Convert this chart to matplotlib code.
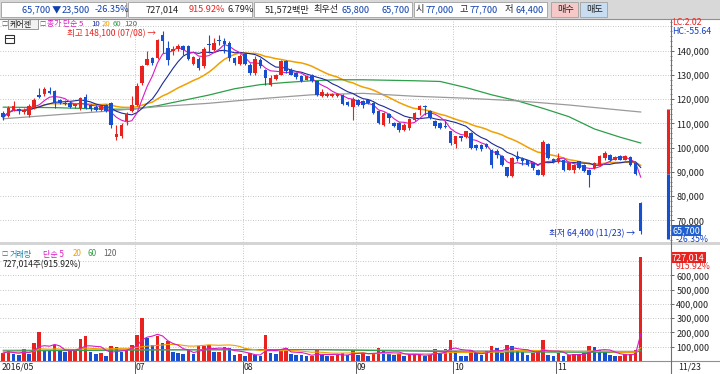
import numpy as np
import pandas as pd
import matplotlib
matplotlib.use('Agg')
import matplotlib.pyplot as plt
import matplotlib.transforms as mtransforms
from matplotlib.patches import Rectangle
from matplotlib.lines import Line2D
from matplotlib.ticker import MultipleLocator, FuncFormatter

plt.rcParams['font.family'] = ['Noto Sans CJK KR', 'DejaVu Sans']

# daily candles, 2016/05 .. 2016/11/23
opens = [
    114300, 113000, 115500, 116000, 114500, 113500, 116800, 121800, 122000, 123500,
    123200, 119700, 118600, 118500, 117000, 116500, 121000, 117500, 116800, 115500,
    117600, 118500, 104200, 104600, 110800, 115200, 117700, 126600, 134200, 137000,
    136900, 146600, 141000, 139700, 140800, 141800, 141800, 134500, 136700, 133500,
    142800, 140400, 144500, 143900, 143200, 136900, 134500, 138600, 134200, 130800,
    136300, 132200, 126000, 128400, 130100, 135600, 132200, 130800, 129400, 128000,
    130100, 127300, 121500, 121500, 121300, 121200, 121800, 119000, 116800, 119800,
    119400, 119800, 118400, 115000, 109500, 113900, 110100, 110100, 107400, 108100,
    111500, 115600, 117300, 115000, 111100, 110100, 109000, 106700, 101500, 104600,
    104200, 106000, 101200, 101000, 101500, 99100, 98400, 96400, 91800, 88100,
    96600, 95700, 94700, 93600, 90900, 88800, 101500, 95300, 94000, 95000,
    90900, 90900, 94300, 92900, 90900, 91600, 92700, 95700, 97100, 95000,
    96400, 95000, 96000, 93600, 77000,
]
highs = [
    115000, 117000, 119300, 116500, 116300, 118000, 120300, 124600, 124900, 124900,
    123900, 120200, 119800, 119200, 118500, 121000, 122000, 118000, 117400, 117500,
    118200, 119000, 109500, 110000, 114500, 121200, 126500, 134000, 139700, 137500,
    145000, 148100, 143800, 141800, 142700, 142500, 142300, 137700, 137200, 141500,
    146600, 145200, 146600, 145200, 143900, 137500, 138500, 139000, 134800, 137700,
    136800, 132500, 130000, 130300, 136000, 136000, 132800, 131200, 129800, 129800,
    130500, 127500, 124000, 122800, 122500, 122600, 122000, 119400, 120800, 120200,
    119800, 120200, 118800, 115400, 114800, 114200, 110500, 110500, 110000, 112300,
    114800, 117500, 117400, 115400, 111400, 110500, 110800, 107000, 105000, 105000,
    107000, 106300, 101500, 101300, 102000, 99500, 99500, 96800, 92200, 96300,
    98400, 96000, 95000, 94000, 91200, 103200, 101800, 95600, 97800, 95400,
    94000, 93300, 94600, 93200, 91300, 94000, 97100, 98400, 97500, 96400,
    96800, 96800, 96400, 94000, 77700,
]
lows = [
    111500, 112500, 115000, 114000, 113800, 112800, 116000, 120500, 121500, 122000,
    116300, 118000, 117400, 116300, 116500, 115600, 116000, 115200, 115000, 115000,
    114600, 108000, 103300, 104000, 109400, 114800, 117000, 126000, 133900, 134000,
    136500, 139000, 134000, 138300, 139700, 138300, 136000, 134000, 132000, 133000,
    139000, 140000, 142500, 139000, 135600, 134200, 134000, 134000, 130000, 130000,
    133000, 125900, 125300, 128000, 129800, 131000, 129800, 128500, 126900, 127800,
    127000, 121300, 121000, 121000, 120800, 120900, 117600, 117000, 111500, 117000,
    116300, 118000, 114000, 109800, 108800, 110100, 108500, 106400, 107000, 107400,
    111000, 113600, 113600, 111800, 108100, 107800, 108000, 101200, 99800, 102600,
    104000, 99500, 99000, 98500, 99800, 91500, 95700, 92300, 87700, 87800,
    94300, 92900, 92600, 90800, 88500, 88400, 95300, 93600, 93700, 90500,
    90600, 89500, 91200, 89900, 83600, 91200, 92300, 95000, 94600, 94700,
    94700, 94700, 92600, 88800, 64400,
]
closes = [
    112500, 116500, 117200, 115200, 115500, 117000, 119800, 120800, 124000, 122500,
    118300, 118400, 117900, 116800, 118000, 120300, 116500, 115800, 115500, 117000,
    115100, 109400, 105600, 109400, 113700, 117400, 125300, 133500, 136700, 134900,
    144500, 143800, 136000, 140800, 141800, 140400, 136700, 137200, 132800, 140800,
    142400, 143200, 143800, 142700, 136900, 134900, 137900, 134500, 130800, 136700,
    133500, 128700, 128700, 130000, 135600, 131500, 130100, 129000, 127300, 129400,
    127300, 121800, 122900, 122300, 122000, 122200, 118000, 117400, 120200, 117400,
    117700, 118400, 114300, 110100, 114300, 112200, 108800, 107400, 109500, 111900,
    114300, 117000, 116600, 112200, 108800, 108100, 108400, 101900, 104600, 104000,
    106700, 99800, 99800, 99500, 100200, 92900, 96800, 92700, 88100, 95900,
    95400, 94300, 92900, 91500, 88800, 102500, 95700, 93900, 95700, 90900,
    93600, 92900, 91600, 90200, 88800, 93600, 96400, 97800, 95000, 96000,
    95000, 96400, 92900, 89200, 65700,
]
volumes = [
    56000, 73000, 49000, 44000, 84000, 49000, 126000, 204000, 73000, 68000,
    110000, 73000, 63000, 68000, 70000, 157000, 173000, 63000, 49000, 56000,
    33000, 103000, 96000, 63000, 80000, 110000, 185000, 302000, 161000, 115000,
    173000, 126000, 138000, 63000, 56000, 49000, 80000, 49000, 103000, 108000,
    112000, 63000, 66000, 96000, 93000, 44000, 46000, 33000, 56000, 40000,
    38000, 185000, 56000, 49000, 73000, 91000, 49000, 44000, 40000, 33000,
    35000, 80000, 45000, 33000, 36000, 40000, 56000, 44000, 80000, 44000,
    56000, 33000, 56000, 91000, 73000, 49000, 44000, 56000, 33000, 44000,
    46000, 48000, 33000, 44000, 87000, 56000, 87000, 150000, 73000, 38000,
    36000, 80000, 56000, 44000, 68000, 103000, 91000, 56000, 115000, 103000,
    68000, 66000, 44000, 56000, 68000, 145000, 40000, 38000, 56000, 33000,
    44000, 47000, 50000, 56000, 103000, 96000, 80000, 63000, 44000, 33000,
    35000, 49000, 52000, 79375, 727014,
]

# long moving averages (index, value)
ma60_idx = [0, 10, 20, 25, 30, 35, 40, 45, 50, 55, 60, 65, 70, 75, 80, 85, 90, 95, 100, 105, 110, 115, 120, 124]
ma60_val = [116700, 116500, 115900, 115800, 117300, 119500, 121700, 124300, 126000, 126900, 127600, 128000,
            128000, 127800, 127600, 127300, 124800, 121800, 119300, 116200, 112800, 107700, 104300, 101900]
ma120_idx = [0, 10, 20, 30, 40, 50, 60, 70, 80, 90, 100, 110, 120, 124]
ma120_val = [111900, 113500, 115000, 116900, 118300, 120200, 121800, 122400, 121200, 120400, 119300, 117600,
             115500, 114700]
vma60_idx = [0, 30, 60, 90, 123, 124]
vma60_val = [70000, 78000, 80000, 64000, 60000, 71000]
vma120_idx = [0, 30, 60, 90, 123, 124]
vma120_val = [76000, 78000, 80000, 72000, 68000, 73000]

month_start = [0, 26, 47, 69, 88, 108]
month_labels = ['2016/05', '07', '08', '09', '10', '11']
last_date = '11/23'
high_date = '07/08'

RED = '#e8221e'
BLUE = '#1650d0'
C5, C10, C20, C60, C120 = '#d81cc4', '#1c2a96', '#f0a000', '#2e9e48', '#9a9a9a'
GRID = '#b4b4b4'

o = np.array(opens); h = np.array(highs); l = np.array(lows); c = np.array(closes)
v = np.array(volumes)
x = np.arange(len(c))
cols = np.where(c >= o, RED, BLUE)
vprev = np.concatenate([[0], v[:-1]])
vcols = np.where(v > vprev, RED, BLUE)

cs = pd.Series(c)
vs = pd.Series(v)


def fx(px):
    return px / 720


def fy(py):
    return 1 - py / 374


fig = plt.figure(figsize=(7.2, 3.74), dpi=100)
fig.patch.set_facecolor('white')
renderer = fig.canvas.get_renderer()

ax_p = fig.add_axes([0, fy(242), fx(670), (242 - 19) / 374])
ax_v = fig.add_axes([0, fy(361), fx(670), (361 - 245) / 374])

# ---- price panel
for val in range(70000, 150001, 10000):
    ax_p.axhline(val, color=GRID, lw=0.6, ls=(0, (1, 2)), zorder=0)
for ms in month_start[1:]:
    ax_p.axvline(ms - 0.45, color=GRID, lw=0.6, ls=(0, (1, 2)), zorder=0)
    ax_v.axvline(ms - 0.45, color=GRID, lw=0.6, ls=(0, (1, 2)), zorder=0)

ax_p.plot(x, cs.rolling(20, min_periods=1).mean(), color=C20, lw=1.1, zorder=2)
ax_p.plot(ma60_idx, ma60_val, color=C60, lw=0.9, zorder=2)
ax_p.plot(ma120_idx, ma120_val, color=C120, lw=0.9, zorder=2)
ax_p.plot(x, cs.rolling(10, min_periods=1).mean(), color=C10, lw=0.8, zorder=2)
ax_p.plot(x, cs.rolling(5, min_periods=1).mean(), color=C5, lw=0.8, zorder=2)

ax_p.vlines(x, l, h, colors=cols, lw=0.8, zorder=3)
body = np.maximum(np.abs(c - o), 250)
ax_p.bar(x, body, bottom=np.minimum(o, c), width=0.7, color=cols, zorder=4)

prev_close = c[-2]
upper, lower = prev_close * 1.3, prev_close * 0.7
ax_p.vlines([129.25], prev_close, upper, colors=RED, lw=2.2, zorder=3)
ax_p.vlines([129.25], lower, prev_close, colors=BLUE, lw=2.2, zorder=3)

ax_p.set_xlim(-0.64, 129.7)
ax_p.set_ylim(61050, 153083)
ax_p.set_xticks([])
ax_p.yaxis.tick_right()
ax_p.set_yticks(range(70000, 140001, 10000))
ax_p.yaxis.set_minor_locator(MultipleLocator(2000))
ax_p.yaxis.set_major_formatter(FuncFormatter(lambda val, p: f'{val:,.0f}'))
ax_p.tick_params(axis='y', which='major', length=3, width=0.6, labelsize=6.5, pad=1.5,
                 colors='#505050', labelcolor='#202020')
ax_p.tick_params(axis='y', which='minor', length=1.5, width=0.5, colors='#505050')
for s in ['top', 'bottom', 'left', 'right']:
    ax_p.spines[s].set_visible(False)

imax = int(np.argmax(h))
imin = int(np.argmin(l))
ax_p.annotate(f'최고 {h[imax]:,} ({high_date}) →', xy=(imax - 1.2, h[imax]), xytext=(0, -2.5),
              textcoords='offset pixels', color=RED, fontsize=6.2, ha='right', va='center', zorder=6)
ax_p.text(imin - 1.0, l[imin], f'최저 {l[imin]:,} ({last_date}) →', color='#1030c0', fontsize=6.3,
          ha='right', va='center', zorder=6)

tr_p = mtransforms.blended_transform_factory(ax_p.transAxes, ax_p.transData)
chg = c[-1] - prev_close
pct = chg / prev_close * 100
ax_p.text(1.003, c[-1], f'{c[-1]:,}', transform=tr_p, color='white', fontsize=6.5, ha='left', va='center',
          clip_on=False, zorder=7,
          bbox=dict(boxstyle='square,pad=0.12', fc='#2060d0', ec='none'))
ax_p.annotate(f'{pct:.2f}%', xy=(1.0, c[-1]), xycoords=tr_p, xytext=(6, -9), textcoords='offset pixels',
              color='#1040c0', fontsize=6.3, ha='left', va='center', annotation_clip=False)

# ---- volume panel
for val in range(100000, 700001, 100000):
    ax_v.axhline(val, color=GRID, lw=0.6, ls=(0, (1, 2)), zorder=0)
ax_v.bar(x, v, width=0.7, color=vcols, zorder=2)
ax_v.plot(vma120_idx, vma120_val, color=C120, lw=0.8, zorder=3)
ax_v.plot(vma60_idx, vma60_val, color=C60, lw=0.8, zorder=3)
ax_v.plot(x, vs.rolling(20, min_periods=1).mean(), color=C20, lw=0.8, zorder=3)
ax_v.plot(x, vs.rolling(5, min_periods=1).mean(), color=C5, lw=0.8, zorder=3)
ax_v.set_xlim(-0.64, 129.7)
ax_v.set_ylim(0, 814000)
ax_v.set_xticks([])
ax_v.yaxis.tick_right()
ax_v.set_yticks(range(100000, 600001, 100000))
ax_v.yaxis.set_major_formatter(FuncFormatter(lambda val, p: f'{val:,.0f}'))
ax_v.tick_params(axis='y', which='major', length=3, width=0.6, labelsize=6.5, pad=1.5,
                 colors='#505050', labelcolor='#202020')
for s in ['top', 'bottom', 'left', 'right']:
    ax_v.spines[s].set_visible(False)

tr_v = mtransforms.blended_transform_factory(ax_v.transAxes, ax_v.transData)
vpct = v[-1] / v[-2] * 100
ax_v.text(1.003, v[-1], f'{v[-1]:,}', transform=tr_v, color='white', fontsize=6.5, ha='left', va='center',
          clip_on=False, zorder=7, bbox=dict(boxstyle='square,pad=0.12', fc=RED, ec='none'))
ax_v.annotate(f'{vpct:.2f}%', xy=(1.0, v[-1]), xycoords=tr_v, xytext=(6, -9), textcoords='offset pixels',
              color=RED, fontsize=6.3, ha='left', va='center', annotation_clip=False)

# date row
tr_d = mtransforms.blended_transform_factory(ax_v.transData, ax_v.transAxes)
for ms, lab in zip(month_start, month_labels):
    pos = ms - 0.45
    ax_v.text(pos + 0.2, -0.055, lab, transform=tr_d, fontsize=6.3, ha='left', va='center',
              color='#202020', clip_on=False)
    if ms > 0:
        ax_v.add_line(Line2D([pos, pos], [0, -0.1], transform=tr_d, color='#404040', lw=0.6, clip_on=False))
fig.text(fx(678), fy(367), last_date, fontsize=6.3, ha='left', va='center', color='#202020')

# ---- frame lines
fig.add_artist(Rectangle((0, fy(245)), 1, 3 / 374, transform=fig.transFigure, fc='#d4d4d4', ec='none'))
fig.add_artist(Line2D([0, 1], [fy(361), fy(361)], transform=fig.transFigure, color='#909090', lw=0.8))
fig.add_artist(Line2D([fx(670.5), fx(670.5)], [fy(19), 0], transform=fig.transFigure, color='#707070', lw=0.8))

# ---- toolbar
fig.add_artist(Rectangle((0, fy(19)), 1, 19 / 374, transform=fig.transFigure, fc='#d8d8d8', ec='none'))
fig.add_artist(Line2D([0, 1], [fy(19), fy(19)], transform=fig.transFigure, color='#909090', lw=0.8))
for x0, x1, fc in [(1, 126, 'white'), (128, 252, 'white'), (254, 412, 'white'), (414, 547, 'white'),
                   (551, 578, '#f6c8c8'), (580, 607, '#c8dcf2')]:
    fig.add_artist(Rectangle((fx(x0), fy(17)), fx(x1 - x0), 15 / 374, transform=fig.transFigure,
                             fc=fc, ec='#a8a8a8', lw=0.7))


def t(px, py, s, color='#202020', size=6.6, **kw):
    return fig.text(fx(px), fy(py), s, color=color, fontsize=size, va='center', **kw)


TB = '#1040b0'
t(22, 9.5, f'{c[-1]:,} ▼', TB)
t(62, 9.5, f'{abs(chg):,}', TB)
t(95, 9.5, f'{pct:.2f}%', TB)
t(146, 9.5, f'{v[-1]:,}')
t(189, 9.5, f'{vpct:.2f}%', RED)
t(228, 9.5, '6.79%')
t(265, 9.5, '51,572백만')
t(313, 9.5, '최우선')
t(341, 9.5, '65,800', TB)
t(382, 9.5, f'{c[-1]:,}', TB)
t(416, 9.5, '시')
t(426, 9.5, f'{o[-1]:,}', TB)
t(460, 9.5, '고')
t(470, 9.5, f'{h[-1]:,}', TB)
t(505, 9.5, '저')
t(515, 9.5, f'{l[-1]:,}', TB)
t(557, 9.5, '매수', '#202020')
t(586, 9.5, '매도', '#202020')

# ---- price panel header
fig.add_artist(Rectangle((fx(8), fy(29)), fx(30), 10 / 374, transform=fig.transFigure,
                         fc='#f2f2f2', ec='#8a8a8a', lw=0.6))
t(1.5, 24, '□', '#606060', 4.5)
t(10, 24, '케어젠', '#202020', 5.8)
t(39.5, 24, '□', '#606060', 4.5)
t(47, 24, '종가 단순 5', C5, 5.6)
t(91, 24, '10', C10, 5.6)
t(102, 24, '20', C20, 5.6)
t(113, 24, '60', C60, 5.6)
t(124, 24, '120', '#606060', 5.6)
fig.add_artist(Rectangle((fx(5), fy(43)), fx(9), 8 / 374, transform=fig.transFigure,
                         fc='white', ec='#303030', lw=0.8))
fig.add_artist(Line2D([fx(5), fx(14)], [fy(37.5), fy(37.5)], transform=fig.transFigure, color='#303030', lw=0.7))
t(672, 22.5, 'LC:2.02', RED, 6.3)
t(672, 31, 'HC:-55.64', '#1040c0', 6.3)

# ---- volume panel header
t(1.5, 254, '□', '#606060', 4.5)
t(10, 254, '거래량', '#1a88b0', 5.8)
t(43, 254, '단순 5', C5, 5.8)
t(73, 254, '20', C20, 5.8)
t(88, 254, '60', C60, 5.8)
t(103, 254, '120', '#606060', 5.8)
t(3, 264.5, f'{v[-1]:,}주({vpct:.2f}%)', '#202020', 6.2)

fig.savefig('out.png', dpi=100)
